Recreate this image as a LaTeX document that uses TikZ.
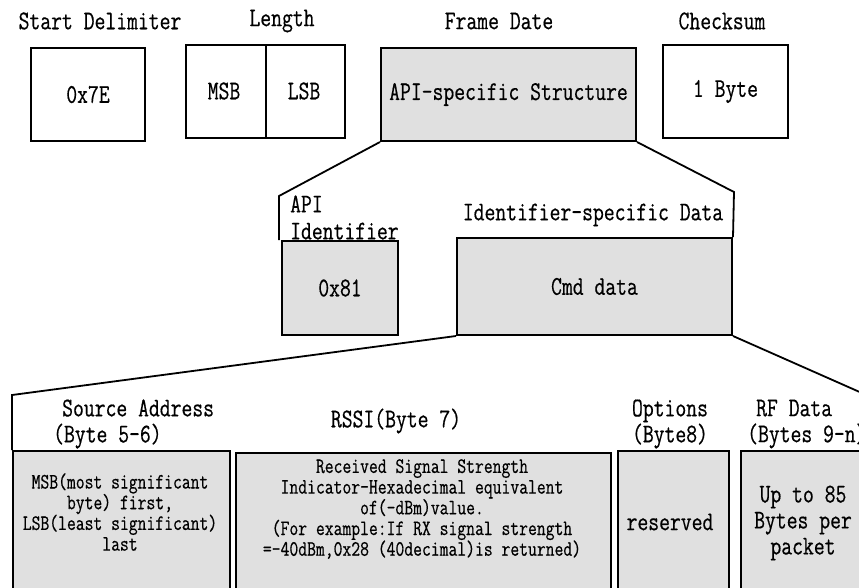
\documentclass[tikz,border=0pt]{standalone}
\usepackage{fontspec}
\setmainfont[FakeStretch=0.78, FakeBold=0.5]{Latin Modern Mono}

\definecolor{cellgray}{RGB}{224,224,224}
\tikzset{
  field/.style={draw=black, line width=2pt, fill=white, inner sep=0pt,
    anchor=north west, font=\fontsize{27}{26}\selectfont},
  shaded/.style={field, fill=cellgray},
  big/.style={font=\fontsize{27}{26}\selectfont, inner sep=0pt, align=center},
  small/.style={font=\fontsize{22}{20.7}\selectfont, inner sep=0pt, align=center},
  link/.style={line width=1.8pt, line join=miter}
}

\begin{document}
\begin{tikzpicture}[x=1pt, y=-1pt]
  \useasboundingbox (0,0) rectangle (859,587);
  \clip (0,0) rectangle (859,587);

  % --- top level frame ---
  \node[field, minimum width=114pt, minimum height=93pt] (sd) at (30,47) {0x7E};
  \node[field, minimum width=159pt, minimum height=93pt] (len) at (185,44) {};
  \draw[line width=2pt] (len.north) -- (len.south);
  \node[big] (msb) at (224,91) {MSB};
  \node[big] (lsb) at (304,91) {LSB};
  \node[shaded, minimum width=255pt, minimum height=93pt] (api) at (380,47) {API-specific Structure};
  \node[field, minimum width=125pt, minimum height=93pt] (cs) at (662,44) {1 Byte};

  \node[big] (sdlab) at (100,21) {Start Delimiter};
  \node[big] (lenlab) at (282,21) {Length};
  \node[big] (fdlab) at (499,21) {Frame Date};
  \node[big] (cslab) at (722,21) {Checksum};

  % --- API frame contents ---
  \node[shaded, minimum width=116pt, minimum height=94pt] (idb) at (281,240) {0x81};
  \node[shaded, minimum width=275pt, minimum height=97pt] (cmd) at (456,237) {Cmd data};

  \coordinate (kl) at (279,196);
  \coordinate (kr) at (734,192);
  \draw[link] (api.south west) -- (kl) -- (kl |- idb.north west);
  \draw[link] (api.south east) -- (kr) -- (cmd.north east);

  \node[big, font=\fontsize{27}{27}\selectfont, anchor=west, align=left] (apilab) at (290,217.5) {API\\Identifier};
  \node[big] (isdlab) at (593,215) {Identifier-specific Data};

  % --- command data fields ---
  \node[shaded, minimum width=217pt, minimum height=170pt] (src) at (12,450) {};
  \node[shaded, minimum width=375pt, minimum height=170pt] (rssi) at (235,452) {};
  \node[shaded, minimum width=111pt, minimum height=170pt] (opt) at (617,450) {};
  \node[shaded, minimum width=140pt, minimum height=170pt] (rf) at (740,450) {};

  \coordinate (ml) at (12,395);
  \coordinate (mr) at (880,401);
  \draw[link] (cmd.south west) -- (ml) -- (src.north west);
  \draw[link] (cmd.south east) -- (mr);

  \node[big, anchor=west, align=left] (srclab) at (53,424) {\hspace*{9pt}Source Address\\(Byte 5-6)};
  \node[big] (rssilab) at (396,421) {RSSI(Byte 7)};
  \node[big] (optlab) at (670,424) {Options\\(Byte8)};
  \node[big, anchor=west, align=left] (rflab) at (747,424) {\hspace*{9pt}RF Data\\(Bytes 9-n)};

  \node[small] (srctxt) at (120,512) {MSB(most significant\\byte) first,\\LSB(least significant)\\last};
  \node[small] (rssitxt) at (422,509) {Received Signal Strength\\Indicator-Hexadecimal equivalent\\of(-dBm)value.\\(For example:If RX signal strength\\=-40dBm,0x28 (40decimal)is returned)};
  \node[big] (opttxt) at (670,522) {reserved};
  \node[big] (rftxt) at (803,523) {Up to 85\\Bytes per\\packet};
\end{tikzpicture}
\end{document}
